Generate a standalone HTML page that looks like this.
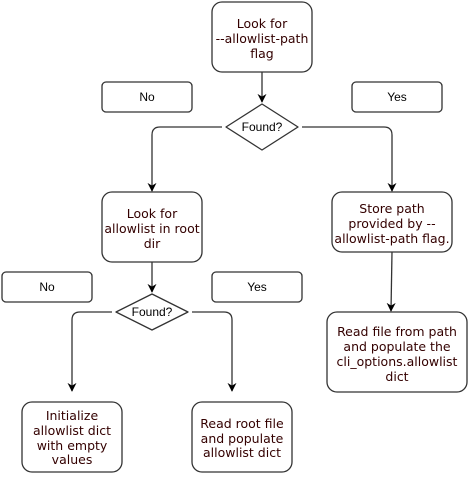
<!DOCTYPE html>
<html><head><style>body{margin:0;background:#fff}</style></head><body>
<svg width="470" height="475" xmlns="http://www.w3.org/2000/svg">
<defs>
<marker id="b" viewBox="0 0 10 10" refX="9" refY="5" markerWidth="9" markerHeight="9" orient="auto" markerUnits="userSpaceOnUse"><path d="M0,0 L10,5 L0,10 L3,5 Z" fill="#000"/></marker></defs>
<g fill="#fff" stroke="#333" stroke-width="1.3">
<rect x="212" y="2" width="100" height="70" rx="10"/>
<rect x="102" y="82" width="90" height="30" rx="4"/>
<rect x="352" y="82" width="90" height="30" rx="4"/>
<path d="M262,104 L298,127 L262,150 L226,127 Z" stroke-linejoin="round"/>
<rect x="102" y="192" width="100" height="70" rx="10"/>
<rect x="332" y="192" width="120" height="60" rx="10"/>
<rect x="2" y="272" width="90" height="30" rx="4"/>
<rect x="212" y="272" width="90" height="30" rx="4"/>
<path d="M152,294 L188,312 L152,330 L116,312 Z" stroke-linejoin="round"/>
<rect x="327" y="312" width="140" height="80" rx="10"/>
<rect x="22" y="402" width="100" height="70" rx="10"/>
<rect x="192" y="402" width="100" height="70" rx="10"/>
</g>
<g fill="none" stroke="#333" stroke-width="1.3" marker-end="url(#b)">
<path d="M262,72 L262,102"/>
<path d="M222,127 L160,127 Q152,127 152,135 L152,191"/>
<path d="M302,127 L384,127 Q392,127 392,135 L392,191"/>
<path d="M152,262 L152,292"/>
<path d="M392,252 L391,311"/>
<path d="M112,312 L80,312 Q72,312 72,320 L72,391"/>
<path d="M192,312 L224,312 Q232,312 232,320 L232,391"/>
</g>
<g font-family="'DejaVu Sans',sans-serif" font-size="12.5" fill="#330000" text-anchor="middle">
<text x="262" y="28">Look for</text><text x="262" y="43">--allowlist-path</text><text x="262" y="58">flag</text>
<text x="152" y="218">Look for</text><text x="152" y="233">allowlist in root</text><text x="152" y="248">dir</text>
<text x="392" y="213">Store path</text><text x="392" y="228">provided by --</text><text x="392" y="243">allowlist-path flag.</text>
<text x="397" y="336">Read file from path</text><text x="397" y="351">and populate the</text><text x="397" y="366">cli_options.allowlist</text><text x="397" y="381">dict</text>
<text x="72" y="420">Initialize</text><text x="72" y="435">allowlist dict</text><text x="72" y="450">with empty</text><text x="72" y="464">values</text>
<text x="242" y="428">Read root file</text><text x="242" y="443">and populate</text><text x="242" y="457">allowlist dict</text>
</g>
<g font-family="'Liberation Sans',sans-serif" font-size="12" fill="#000" text-anchor="middle">
<text x="147" y="101">No</text><text x="397" y="101">Yes</text>
<text x="262" y="131">Found?</text>
<text x="47" y="291">No</text><text x="257" y="291">Yes</text>
<text x="152" y="316">Found?</text>
</g>
</svg>
</body></html>
